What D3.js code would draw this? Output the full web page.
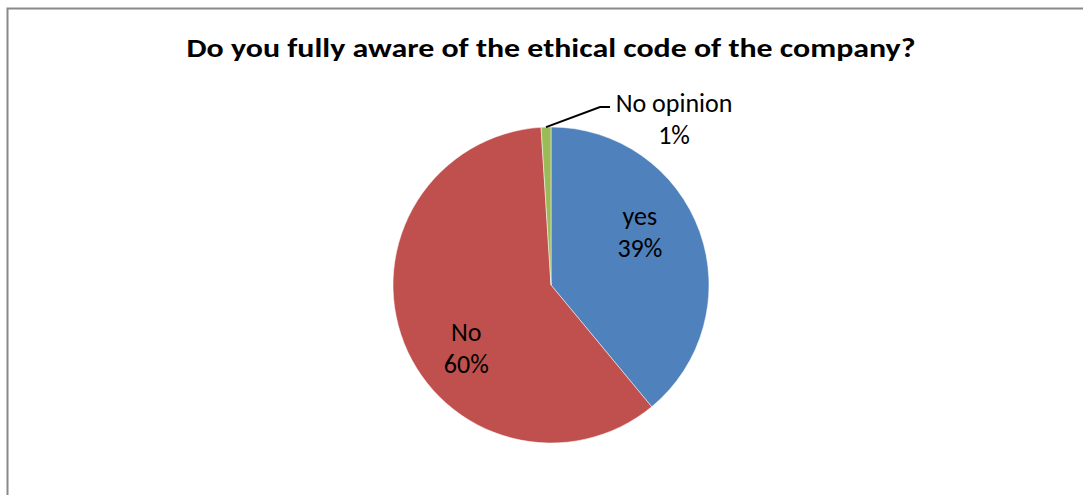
<!DOCTYPE html>
<html><head><meta charset="utf-8">
<script src="https://cdn.jsdelivr.net/npm/d3@7"></script>
<style>
html,body{margin:0;padding:0;background:#fff;}
svg{display:block;}
text{font-family:Carlito, Calibri, "Open Sans", "Noto Sans", sans-serif;}
</style></head>
<body><svg id="c" width="1083" height="495"></svg>
<script>
const title = "Do you fully aware of the ethical code of the company?";
const categories = ["yes", "No", "No opinion"];
const values = [39, 60, 1];
const colors = ["#4F81BD", "#C0504D", "#9BBB59"];

const W = 1083, H = 495;
const cx = 551, cy = 285, R = 158;
const svg = d3.select("#c");

// chart area border
svg.append("rect").attr("x", 7.5).attr("y", 8.5).attr("width", W + 10).attr("height", H + 10)
  .attr("fill", "#fff").attr("stroke", "#898989").attr("stroke-width", 2);

// title
svg.append("text").attr("x", cx).attr("y", 57).attr("text-anchor", "middle")
  .attr("font-size", 26.5).attr("font-weight", "bold").attr("fill", "#000")
  .attr("textLength", 729).attr("lengthAdjust", "spacingAndGlyphs").text(title);

const data = categories.map((c, i) => ({ name: c, value: values[i], color: colors[i] }));
const pie = d3.pie().value(d => d.value).sort(null);
const arcs = pie(data);
const arc = d3.arc().innerRadius(0).outerRadius(R);
const g = svg.append("g").attr("transform", `translate(${cx},${cy})`);
g.selectAll("path").data(arcs).join("path")
  .attr("d", arc).attr("fill", d => d.data.color)
  .attr("stroke", "#fff").attr("stroke-width", 0.5);

const total = d3.sum(values);
const pct = v => Math.round(v / total * 100) + "%";

// label layout (positions relative to slice centroid)
const labelArc = d3.arc().innerRadius(0).outerRadius(2 * 104);
const nudges = [[-9, -17], [12, 26]];
const fs = 26, lh = 32;
function addLabel(x, y, lines) {
  const tx = svg.append("text").attr("text-anchor", "middle").attr("font-size", fs).attr("fill", "#000");
  lines.forEach((l, i) => {
    tx.append("tspan").attr("x", x).attr("y", y + i * lh).text(l);
  });
  return tx;
}
arcs.slice(0, 2).forEach((a, i) => {
  const [x, y] = labelArc.centroid(a);
  const bx = cx + x + nudges[i][0], by = cy + y + nudges[i][1];
  addLabel(bx, by - lh / 2 + 8, [a.data.name, pct(a.data.value)]);
});

// outside label with leader for small slice
const small = arcs[2];
const mid = (small.startAngle + small.endAngle) / 2;
const p0 = [cx + R * Math.sin(mid), cy - R * Math.cos(mid)];
const elbow = [p0[0] + 54, p0[1] - 20];
const p2 = [elbow[0] + 10, elbow[1]];
svg.append("path").attr("d", d3.line()([p0, elbow, p2]))
  .attr("fill", "none").attr("stroke", "#000").attr("stroke-width", 2);
addLabel(p2[0] + 64, 112, [small.data.name, pct(small.data.value)]);
</script></body></html>
